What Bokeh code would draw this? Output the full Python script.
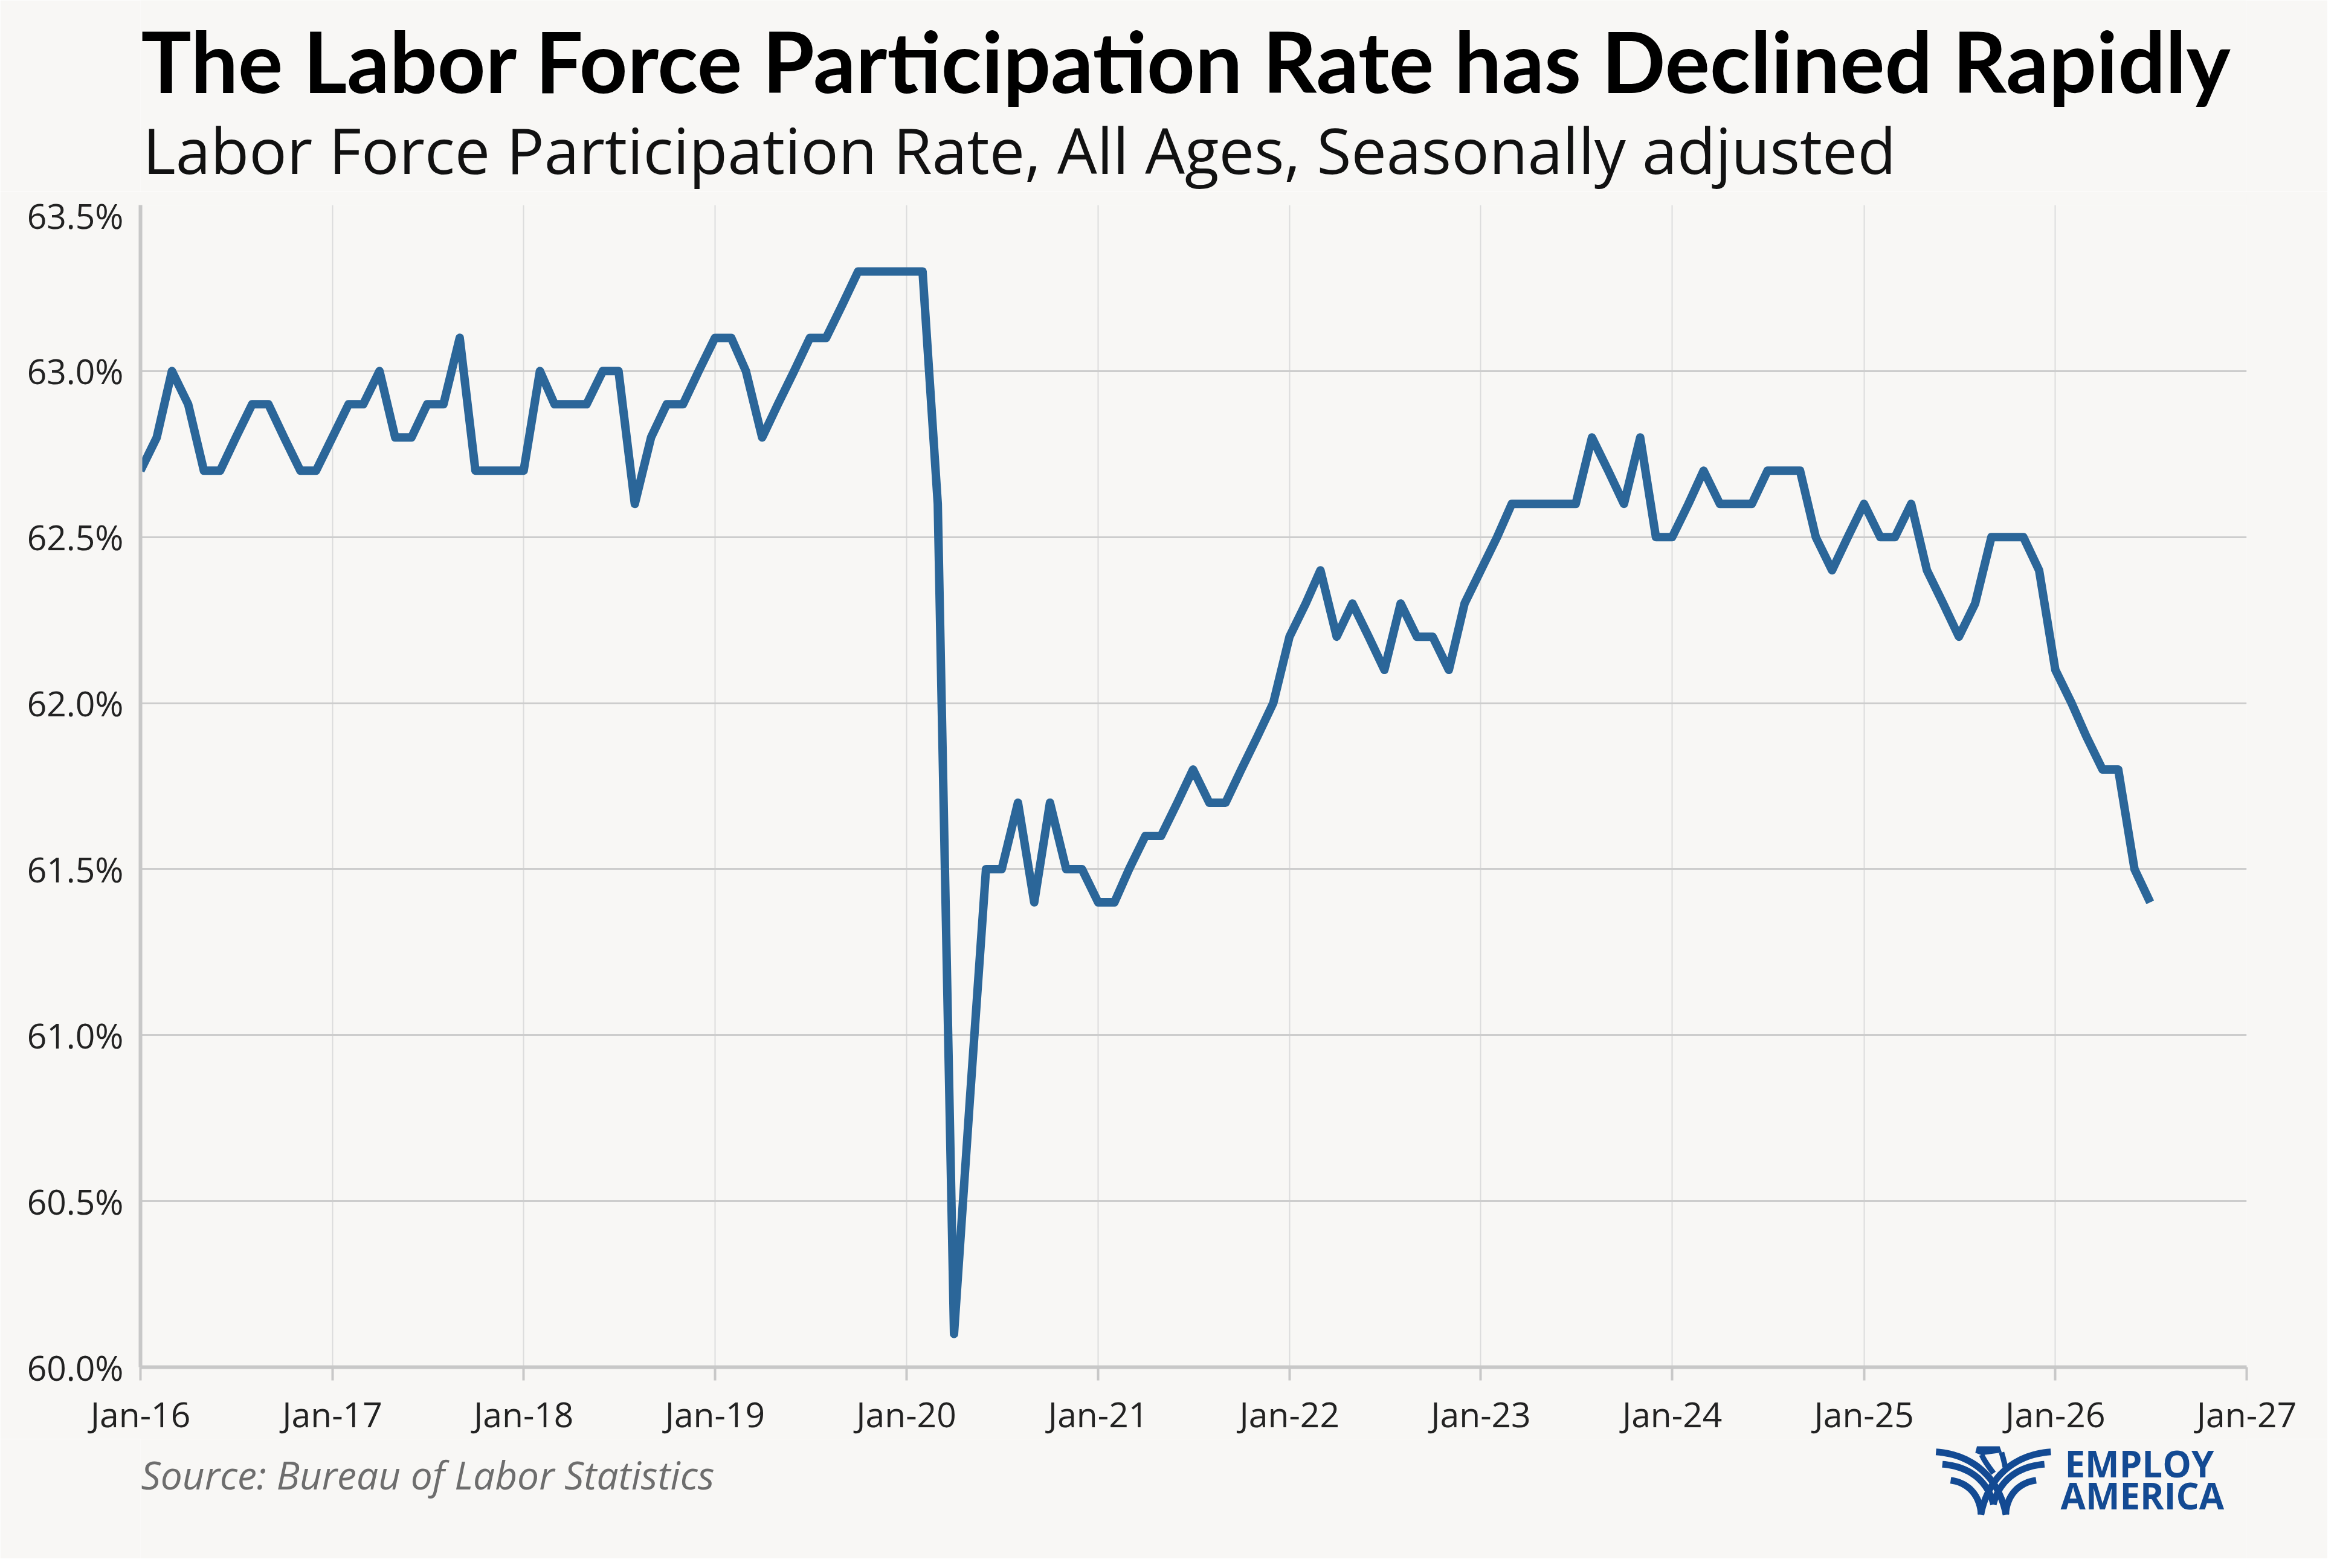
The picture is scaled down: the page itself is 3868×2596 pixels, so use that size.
import numpy as np
import pandas as pd
from bokeh.plotting import figure
from bokeh.layouts import column
from bokeh.models import (Range1d, FixedTicker, DatetimeTickFormatter, PrintfTickFormatter,
                          ColumnDataSource)
from bokeh.core.properties import value
from bokeh.embed import file_html
from bokeh.resources import INLINE

# ---------------- data ----------------
TITLE = "The Labor Force Participation Rate has Declined Rapidly"
SUBTITLE = "Labor Force Participation Rate, All Ages, Seasonally adjusted"
SOURCE = "Source: Bureau of Labor Statistics"
LOGO_LINES = ["EMPLOY", "AMERICA"]

first_month = "2016-01-01"
rate_2016 = [62.7, 62.8, 63.0, 62.9, 62.7, 62.7, 62.8, 62.9, 62.9, 62.8, 62.7, 62.7]
rate_2017 = [62.8, 62.9, 62.9, 63.0, 62.8, 62.8, 62.9, 62.9, 63.1, 62.7, 62.7, 62.7]
rate_2018 = [62.7, 63.0, 62.9, 62.9, 62.9, 63.0, 63.0, 62.6, 62.8, 62.9, 62.9, 63.0]
rate_2019 = [63.1, 63.1, 63.0, 62.8, 62.9, 63.0, 63.1, 63.1, 63.2, 63.3, 63.3, 63.3]
rate_2020 = [63.3, 63.3, 62.6, 60.1, 60.8, 61.5, 61.5, 61.7, 61.4, 61.7, 61.5, 61.5]
rate_2021 = [61.4, 61.4, 61.5, 61.6, 61.6, 61.7, 61.8, 61.7, 61.7, 61.8, 61.9, 62.0]
rate_2022 = [62.2, 62.3, 62.4, 62.2, 62.3, 62.2, 62.1, 62.3, 62.2, 62.2, 62.1, 62.3]
rate_2023 = [62.4, 62.5, 62.6, 62.6, 62.6, 62.6, 62.6, 62.8, 62.7, 62.6, 62.8, 62.5]
rate_2024 = [62.5, 62.6, 62.7, 62.6, 62.6, 62.6, 62.7, 62.7, 62.7, 62.5, 62.4, 62.5]
rate_2025 = [62.6, 62.5, 62.5, 62.6, 62.4, 62.3, 62.2, 62.3, 62.5, 62.5, 62.5, 62.4]
rate_2026 = [62.1, 62.0, 61.9, 61.8, 61.8, 61.5, 61.4]

x_tick_dates = ["2016-01-01", "2017-01-01", "2018-01-01", "2019-01-01", "2020-01-01",
                "2021-01-01", "2022-01-01", "2023-01-01", "2024-01-01", "2025-01-01",
                "2026-01-01", "2027-01-01"]
x_tick_labels = ["Jan-16", "Jan-17", "Jan-18", "Jan-19", "Jan-20", "Jan-21",
                 "Jan-22", "Jan-23", "Jan-24", "Jan-25", "Jan-26", "Jan-27"]
y_ticks = [60.0, 60.5, 61.0, 61.5, 62.0, 62.5, 63.0, 63.5]

rate = (rate_2016 + rate_2017 + rate_2018 + rate_2019 + rate_2020 + rate_2021 +
        rate_2022 + rate_2023 + rate_2024 + rate_2025 + rate_2026)
dates = pd.date_range(first_month, periods=len(rate), freq="MS")
src = ColumnDataSource(dict(date=dates, rate=rate))

tick_ms = [pd.Timestamp(d).value / 1e6 for d in x_tick_dates]

# ---------------- style / layout (page pixels) ----------------
BG = "#f8f7f5"
LINE = "#2b6699"
AXIS = "#c8c8c8"
LOGO = "#134a93"
FW = 3852
PAGE_OFF = 8
FRAME_LEFT, FRAME_TOP, FRAME_RIGHT, FRAME_BOTTOM = 240, 347, 3726, 2271
HEAD_BOTTOM = 325
MAIN_BOTTOM = 2390
PAGE_BOTTOM = 2588
BORDER_L = FRAME_LEFT - PAGE_OFF
BORDER_R = FW - (FRAME_RIGHT - PAGE_OFF)


def band_fig(top, bottom):
    f = figure(width=FW, height=bottom - top, output_backend="svg", toolbar_location=None,
               x_range=Range1d(FRAME_LEFT, FRAME_RIGHT), y_range=Range1d(bottom, top),
               x_axis_location=None, y_axis_location=None,
               min_border_left=BORDER_L, min_border_right=BORDER_R,
               min_border_top=0, min_border_bottom=0)
    f.grid.visible = False
    f.outline_line_color = None
    f.background_fill_color = BG
    f.border_fill_color = BG
    return f


def put_text(f, xs, ys, texts, font, size, style, color):
    f.text(x=xs, y=ys, text=texts, text_font=value(font), text_font_size=size,
           text_font_style=style, text_color=color, text_align="left",
           text_baseline="alphabetic")


# header (y values compensate the renderer's baseline offset)
head = band_fig(PAGE_OFF, HEAD_BOTTOM)
put_text(head, [241], [108], [TITLE], "Lato", "139px", "bold", "#000000")
put_text(head, [244], [255], [SUBTITLE], "Open Sans", "104px", "normal", "#111111")

# main chart
p = figure(width=FW, height=MAIN_BOTTOM - HEAD_BOTTOM, output_backend="svg",
           toolbar_location=None, x_axis_type="datetime",
           x_range=Range1d(tick_ms[0], tick_ms[-1]),
           y_range=Range1d(y_ticks[0], y_ticks[-1]),
           min_border_left=BORDER_L, min_border_right=BORDER_R,
           min_border_top=FRAME_TOP - HEAD_BOTTOM,
           min_border_bottom=MAIN_BOTTOM - FRAME_BOTTOM)
p.background_fill_color = BG
p.border_fill_color = BG
p.outline_line_color = None

p.line(x="date", y="rate", source=src, line_color=LINE, line_width=14, line_join="round")

p.xgrid.ticker = FixedTicker(ticks=tick_ms)
p.xgrid.grid_line_color = "#dcdcdc"
p.xgrid.grid_line_width = 2
p.ygrid.ticker = FixedTicker(ticks=y_ticks)
p.ygrid.grid_line_color = "#cdcdcd"
p.ygrid.grid_line_width = 3

fmt = "%b-%y"
p.xaxis.ticker = FixedTicker(ticks=tick_ms)
p.xaxis.formatter = DatetimeTickFormatter(years=fmt, months=fmt, days=fmt, hours=fmt,
                                          minutes=fmt, seconds=fmt, milliseconds=fmt,
                                          microseconds=fmt, minsec=fmt, hourmin=fmt)
p.yaxis.ticker = FixedTicker(ticks=y_ticks)
p.yaxis.formatter = PrintfTickFormatter(format="%.1f%%")
for ax in (p.xaxis, p.yaxis):
    ax.axis_line_color = AXIS
    ax.axis_line_width = 6
    ax.minor_tick_line_color = None
    ax.major_label_text_font = "Open Sans"
    ax.major_label_text_font_size = "57px"
    ax.major_label_text_color = "#222222"
p.xaxis.major_tick_line_color = AXIS
p.xaxis.major_tick_line_width = 4
p.xaxis.major_tick_out = 22
p.xaxis.major_tick_in = 0
p.xaxis.major_label_standoff = 16
p.yaxis.major_tick_line_color = None
p.yaxis.major_tick_out = 0
p.yaxis.major_tick_in = 0
p.yaxis.major_label_standoff = 28

# footer
foot = band_fig(MAIN_BOTTOM, PAGE_BOTTOM)
put_text(foot, [241], [2449], [SOURCE], "Open Sans", "64px", "italic", "#6d6d6d")
put_text(foot, [3425, 3418], [2430, 2483], LOGO_LINES, "Open Sans", "60px", "bold", LOGO)


# logo icon (decoration): sketch coordinates -> page px
def zpt(zx, zy):
    return np.array([3150 + zx / 2.184, 2250 + zy / 3.0])


def band(ctrl, w, n=30):
    P = [zpt(*c) for c in ctrl]
    t = np.linspace(0, 1, n)[:, None]
    pts = ((1 - t) ** 3 * P[0] + 3 * (1 - t) ** 2 * t * P[1] +
           3 * (1 - t) * t ** 2 * P[2] + t ** 3 * P[3])
    d = np.gradient(pts, axis=0)
    nrm = np.stack([-d[:, 1], d[:, 0]], 1)
    nrm /= np.linalg.norm(nrm, axis=1)[:, None]
    return np.vstack([pts + nrm * w / 2, (pts - nrm * w / 2)[::-1]])


CX = 342.5
left_bands = [
    [(135, 484), (260, 495), (360, 600), (388, 795)],
    [(158, 545), (250, 555), (320, 620), (343, 745)],
    [(188, 625), (250, 635), (295, 700), (298, 795)],
]
polys = []
for ctrl in left_bands:
    polys.append(band(ctrl, 11))
    polys.append(band([(2 * CX - x, y) for x, y in ctrl], 11))
polys.append(np.array([zpt(283, 456), zpt(365, 456), zpt(373, 487), zpt(300, 500), zpt(277, 488)]))
polys.append(band([(300, 498), (310, 530), (330, 565), (343, 590)], 9))
polys.append(band([(372, 487), (378, 515), (383, 540), (385, 560)], 9))
foot.patches(xs=[list(q[:, 0]) for q in polys], ys=[list(q[:, 1]) for q in polys],
             fill_color=LOGO, line_color=None)

layout = column(head, p, foot, spacing=0)
html = file_html(layout, INLINE)
html = html.replace("<body>", '<body style="background:%s">' % BG, 1)
open("out.html", "w").write(html)
